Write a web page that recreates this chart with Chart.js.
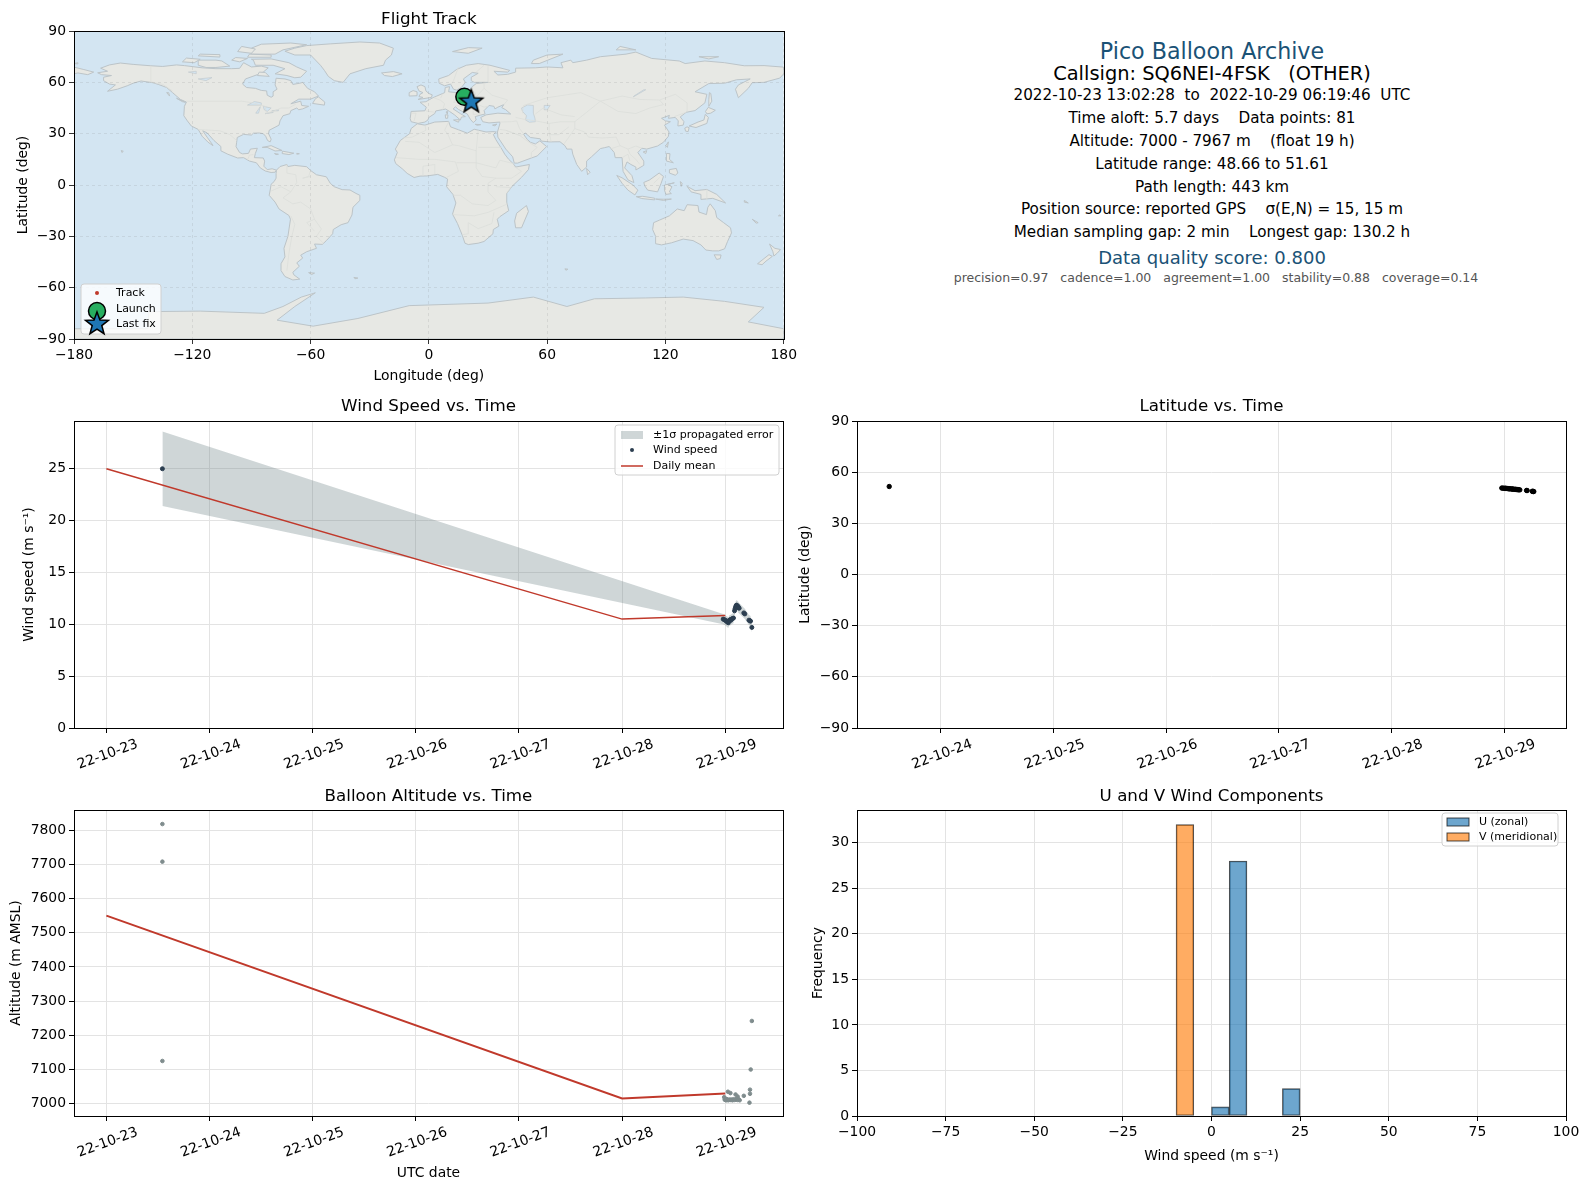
<!DOCTYPE html>
<html>
<head>
<meta charset="utf-8">
<title>Pico Balloon Archive</title>
<script src="https://cdn.jsdelivr.net/npm/chart.js@4"></script>
<style>
    html, body { margin: 0; padding: 0; background: #fff; }
    #page { position: relative; width: 1589px; height: 1189px; overflow: hidden; font-family: "DejaVu Sans", sans-serif; }
    canvas { position: absolute; }
    .info { position: absolute; left: 812px; width: 800px; text-align: center; white-space: pre; line-height: 1; transform: translateY(-50%); }
</style>
</head>
<body>
<div id="page">
    <canvas id="trackChart"></canvas>
    <canvas id="windChart"></canvas>
    <canvas id="latChart"></canvas>
    <canvas id="altChart"></canvas>
    <canvas id="histChart"></canvas>
</div>
<script>
// outlines are rough lon/lat readings of the basemap
const northAmerica = [[-166.5,68.3],[-162,70.2],[-156.5,71.3],[-150,70.5],[-141,69.7],[-135,69.3],[-128,70.2],[-124,69.8],[-115,68.5],[-108,68],[-100,68],[-96,68.2],[-94,71.5],[-90,69],[-85,69.5],[-81.5,68.5],[-84,66],[-87,64.5],[-93,62],[-94.5,59],[-92.5,57],[-88,56.5],[-85,55.3],[-82.3,55],[-82,52.5],[-80,51.3],[-79,52],[-79,54.5],[-77,56],[-78,58.5],[-77.5,62.4],[-73,62],[-70,61],[-69,58.8],[-65.5,59.5],[-64,60],[-61.5,56.5],[-58,54.5],[-56,52],[-60,50.2],[-66,50.2],[-70,47.5],[-65,49],[-64.5,46.5],[-61,46],[-64,44.5],[-66,44],[-67,45],[-70,43.5],[-70.5,41.7],[-74,40.5],[-75.5,37.5],[-76,35],[-78,33.8],[-81,32],[-81.3,30],[-80,26.8],[-80.5,25.2],[-81.8,26],[-82.8,28.5],[-84,30],[-86,30.4],[-89,30.3],[-90,29.2],[-94,29.6],[-97.2,27.8],[-97.5,25],[-97.8,22.4],[-96,19],[-94.5,18.2],[-91.5,18.5],[-90.5,21],[-87,21.5],[-88,18.5],[-88.5,16],[-84,15.8],[-83.3,14],[-83.7,11],[-82,9],[-79.5,9.5],[-77.3,8.7],[-78,7.5],[-80,7.3],[-83,8.2],[-85.5,10],[-87.5,13],[-91,14],[-94,16],[-97,15.8],[-102,18],[-105.5,20],[-105.5,22.5],[-109,26],[-112.5,30.5],[-114.7,31.7],[-112.5,28],[-110,24],[-109.5,23],[-112,25],[-115,28.5],[-117,32.5],[-120.5,34.5],[-122.5,37.5],[-124.3,40.5],[-124,46],[-123,48.5],[-126,50],[-130,54],[-133,57],[-137,58.7],[-140,59.8],[-146,60.8],[-150,59.5],[-153,58],[-158,56],[-163,54.8],[-159,58.5],[-162,59],[-165,61],[-165,63],[-161,64],[-166,64.5],[-168,65.6],[-163,66.5]]
const greenland = [[-73,78.2],[-68,76],[-60,76],[-55,70],[-53,67],[-51,63.5],[-48,61],[-43.5,60],[-40,65],[-32,68],[-23,70],[-22,73],[-19,76],[-18,80],[-25,83],[-35,83.6],[-50,82.5],[-62,81.5],[-68,80]]
const southAmerica = [[-77.3,8.7],[-75.5,10.8],[-72,12],[-71.5,10.8],[-68,11.5],[-62,10.7],[-60,8.5],[-57,6],[-52,4.8],[-50,1],[-48,-1],[-44,-2.7],[-40,-2.9],[-37,-4.9],[-35,-6],[-35,-9],[-38.5,-13],[-39,-17.5],[-41,-22],[-44.5,-23.2],[-48.5,-26],[-48.8,-28.5],[-52,-32.5],[-54,-34.7],[-58,-34.5],[-57,-37],[-62,-39],[-65,-41],[-64,-42.7],[-67,-45.5],[-65.7,-47.5],[-69,-51],[-68.5,-52.5],[-65.5,-55],[-69,-55.5],[-73,-53.5],[-75,-50],[-75,-46],[-73,-42],[-73.5,-37],[-71.5,-30],[-70.2,-20],[-71,-17.8],[-76,-14],[-78,-10],[-81,-6],[-80.5,-3],[-80,0.5],[-78.5,2],[-77.5,4],[-77.5,6.8]]
const africa = [[-5.9,35.8],[-2,35],[3,36.8],[10,37.2],[11,34],[15,32.3],[19.5,30.3],[23,32.6],[29,31],[32.5,31.2],[34.2,31],[32.7,29.5],[34,26.5],[37,21],[38.5,18],[40.5,15],[43.2,12],[44,10.5],[51,12],[50.5,9],[47,4.5],[42,-1],[39.5,-5],[39.5,-10],[40.5,-15],[36,-18.5],[34.7,-20],[35.5,-24],[32.7,-26],[32.5,-28.5],[28,-33],[25,-34],[20,-34.8],[18.3,-34],[17,-29.5],[14.5,-22.5],[12,-17],[13.7,-10.5],[12.2,-5.5],[9,-1],[9.5,3.5],[8,4.5],[4.5,6.2],[-1,5.3],[-4.5,5.2],[-7.5,4.4],[-11,6.8],[-13.5,9.5],[-16.8,12.5],[-17.5,14.7],[-16,19],[-17,21],[-14.5,26],[-9.8,30],[-9,33]]
const eurasia = [[-9,37],[-9.5,38.8],[-9,43],[-2,43.4],[-1.3,45.5],[-4.5,48.4],[-1.5,48.7],[2,51],[4,52],[8,54],[8.3,57],[10.5,57.5],[10,54.5],[14,54],[19,54.4],[21,55.5],[22,57.5],[24,59.3],[30,60],[23,60],[21.5,61],[21.5,63],[25,65.3],[22,65.8],[17.5,62],[18.5,60],[16.5,57],[14,55.5],[12.5,56],[11,59],[8,58],[5.2,59.5],[5,62],[10,64],[14,67.5],[19,70],[25,71],[31,70],[41,67],[40,66],[33,66.5],[35,64.3],[40,64.7],[44,66],[44,68.3],[54,68.5],[60,69],[68,68.5],[67,71.5],[72,73],[73,71.5],[80,73],[87,75],[100,76.5],[105,77.7],[113,74],[127,72.5],[130,71],[140,72.5],[150,71.5],[160,69.7],[170,69.8],[180,68.9],[180,65],[178,62.5],[170,60],[164,59.8],[162,56.5],[157,51],[155.5,56],[157,58.5],[163,62],[156,61.5],[150,59.5],[142,59.3],[135,54.5],[141,53],[140,48],[135,43.5],[130.5,42.5],[127.5,39.8],[129.4,37],[129,35],[126.3,34.5],[126.5,37.5],[125,39.5],[121.5,39],[122,40.7],[118,39],[120,37.5],[122.5,37],[119.5,35],[121.8,31],[121.5,28.5],[119,25],[116,22.8],[110.5,21],[108,21.5],[106,19],[109,14],[109,11.5],[105,8.8],[105,10.5],[102.5,12],[100.5,13.5],[99.3,10],[103,5.5],[104,1.4],[101,3],[98.5,8],[98,16],[94.5,16],[94,19],[91.5,22.5],[89,21.8],[87,21.3],[82.5,16.5],[80,14],[80,10.5],[77.5,8],[75,12],[73,18],[72.5,21],[70,21],[69,23],[66.5,25.3],[61,25.2],[57,25.7],[56.5,27],[51.5,27.8],[49,30.3],[48,29.7],[50,26.5],[51.5,25],[54,24],[56.3,25.8],[59.7,22.5],[55,17],[52,15.8],[45,12.8],[43.3,12.8],[42.5,16.5],[39,21],[35,28],[34.8,31],[36,35.8],[36,36.8],[30.5,36.3],[27.3,37],[26.3,39.5],[29,41],[35,42],[41.5,41.5],[39,44],[37,45.2],[38,47],[35,45.5],[33.5,44.5],[33,46],[30.5,46.5],[28,43.5],[28.5,41.5],[26,40.8],[23.5,40],[24,38],[22.5,36.5],[21,38.5],[19.5,41.5],[15,44.2],[13.5,45.7],[12.3,44.5],[16,41.7],[18.5,40],[16.5,39.7],[16,38],[13,41],[10.5,43],[8.5,44.4],[3.5,43.3],[3,41.8],[0,39.5],[-0.5,38],[-2,36.8],[-5.5,36]]
const chukotkaWest = [[-180,68.9],[-175,67.5],[-170,66],[-173,64.5],[-178,65.5],[-180,65]]
const australia = [[114,-22],[113.5,-26],[115,-30],[115,-34.3],[118,-35],[123,-33.8],[129,-31.6],[134,-32.5],[138,-35],[140.5,-38],[144,-38.5],[147,-38.5],[150,-37.3],[151.5,-33],[153.5,-28],[153,-25],[149.5,-22],[146,-19],[145.3,-15],[142.7,-11],[141.5,-13],[140.8,-17.3],[137,-15.8],[136.5,-12],[131,-11.5],[129.5,-15],[126,-14],[122,-18],[117,-20.5]]
const antarctica = [[-180,-90],[180,-90],[180,-84],[162,-80],[170,-71.5],[150,-68],[129,-65.5],[110,-66],[84,-66.5],[70,-71],[53,-65.5],[30,-69],[-10,-70.5],[-36,-78],[-58.7,-82.5],[-77,-79],[-68,-71],[-57.6,-63],[-64.7,-65.5],[-74,-71],[-83.5,-75],[-116,-73.7],[-142,-74],[-142.5,-84],[-180,-84]]
const islands = [
    [[-90,73.5],[-80,73.7],[-71,71.5],[-67,69],[-62,66.5],[-65,63],[-68,62.7],[-72,64],[-78,65],[-73,68],[-79,70],[-88,70],[-89,73]],
    [[-117,70],[-117,73],[-108,73],[-105,72.5],[-101,69.5],[-108,68.7],[-113,68.7]],
    [[-125,72],[-123,74.2],[-116,73.5],[-119,71.5]],
    [[-90,76.5],[-78,76.5],[-74,79],[-62,82],[-70,83],[-85,82.3],[-90,80]],
    [[-92,74.7],[-80,74.7],[-80,76],[-91,76.5]],
    [[-117,75.5],[-106,74.8],[-106,76.2],[-116,76.5]],
    [[-100,73],[-96,72],[-92,74],[-98,74.5]],
    [[-97,78],[-90,77],[-88,79.5],[-95,81]],
    [[-87,64],[-81,63.5],[-83,65.8],[-86,66]],
    [[-59,47.7],[-53,46.7],[-52.8,48.5],[-56,51.5],[-57.5,50.5]],
    [[-128,50.7],[-123.5,48.4],[-125,48.7]],
    [[-133,54],[-131.5,52],[-132,54]],
    [[-84.5,22],[-80,23],[-74.5,20.2],[-78,19.9],[-82,22]],
    [[-74.3,19.8],[-68.5,18.6],[-71,17.8],[-74.4,18.4]],
    [[-78.3,18.4],[-76.3,18],[-77.5,17.8]],
    [[-67,18.5],[-65.7,18.3],[-67,18]],
    [[-156,20.2],[-155,19.7],[-155.7,19]],
    [[-61,-51.2],[-58,-51.5],[-59.5,-52.3]],
    [[-38,-54],[-36,-54.4],[-37.5,-54.8]],
    [[-24,65.5],[-18,66.3],[-13.6,65],[-18.5,63.4],[-22.5,64]],
    [[-5.5,50],[1.3,51.2],[1.7,52.7],[0,53.5],[-1.5,55],[-2,57.5],[-4,58.5],[-6,57.5],[-5,55],[-3,54],[-4.5,53],[-5,51.7],[-3,51.2]],
    [[-10,52],[-6,52.2],[-6,54.5],[-8,55.2],[-10,54]],
    [[12,78],[20,80.3],[27,80],[20,77]],
    [[52,71],[56,71],[68,76.5],[60,76],[53,73]],
    [[95,79],[100,79],[105,79],[97,81]],
    [[137,75],[147,75],[142,73.7]],
    [[-178,71.5],[-178,70.8],[-180,71]],
    [[12.5,38],[15.5,38.2],[15,36.7]],
    [[8.3,41],[9.7,41],[9.5,39],[8.5,39]],
    [[8.7,42.7],[9.5,43],[9.4,41.5]],
    [[23.5,35.5],[26.3,35.3],[24.5,34.9]],
    [[32.3,35],[34.5,35.6],[33.5,34.6]],
    [[80,9.7],[81.8,7.5],[80.5,6]],
    [[49.5,-12],[50.5,-15.5],[47,-25],[44,-25],[43.5,-21],[44.5,-16.5]],
    [[95.3,5.6],[98,4.2],[103.5,0],[106,-3],[104.5,-5.8],[101,-3],[98,1]],
    [[105.2,-6.8],[108.5,-6.6],[114.5,-7.7],[114.5,-8.7],[108,-7.9]],
    [[115,-8.2],[119,-8.3],[123,-8.2],[119,-9]],
    [[109,1.5],[112,3],[116.8,7],[119,5],[117.8,1],[116,-4],[111,-3],[109.5,-0.5]],
    [[119.5,0],[124.5,1.3],[121,0.3],[123.3,-1],[122,-4],[123,-5],[120.3,-5.5],[119.5,-3]],
    [[127.5,2],[128.5,1],[128,-0.8]],
    [[131,-0.8],[135,-3.3],[141,-2.6],[146,-5.5],[150.5,-10.5],[144,-7.8],[138,-8.4],[138,-5.5],[133,-4]],
    [[120.5,18.5],[122.3,18.3],[122,15],[124,13],[120.5,14]],
    [[122,9],[125.5,9.7],[126.3,7],[125,5.7],[122,7]],
    [[120.2,23],[121.5,25.2],[121,22]],
    [[108.7,19.3],[110.5,20.1],[110,18.4]],
    [[131,34],[132,33.5],[131.5,31.2],[130.2,31.5],[129.8,33.3]],
    [[132,34.5],[136.5,36.8],[139.5,38],[140.2,41.3],[141.8,39.5],[141,36],[138,34.7],[135.5,33.6]],
    [[140.3,43],[141.7,45.4],[145.3,43.7],[143,42],[141,41.6]],
    [[142,46],[143.5,49],[143,53.5],[142.3,54],[142,50]],
    [[144.7,-40.8],[148.2,-40.9],[147.8,-43],[146,-43.5]],
    [[172.8,-34.5],[175.5,-37],[178.4,-37.7],[176.8,-39.7],[175,-41.5],[174.5,-39]],
    [[172.5,-40.7],[174.2,-41.7],[171,-44.5],[169,-46.6],[166.7,-46],[170,-43]],
    [[164,-20],[167,-22],[166,-22.3]],
    [[69,-49],[70.5,-49.2],[69.5,-49.8]],
    [[178,-17.5],[178.6,-18],[177.3,-18]],
    [[160,-9],[162,-10.5],[160,-10]]
]
const inlandWater = [
    [[47,45],[50,46.8],[53,46.5],[53,42],[53.8,39],[54,37],[51,36.7],[49,38],[49.5,40.5],[47.5,43]],
    [[58.5,46.5],[61.5,46.5],[60,44],[58.5,44]],
    [[-92,46.7],[-85,46.7],[-85,48],[-88.5,48.8]],
    [[-87.8,42],[-85.5,45.8],[-86.4,42]],
    [[-84,46],[-80,45],[-82,43],[-83.5,44]],
    [[-83,41.7],[-79,42.8],[-79,42.4]],
    [[-79.7,43.3],[-76.2,44],[-76.3,43.4]],
    [[-122,66],[-118,66.5],[-118,65]],
    [[-117,62],[-110,62.8],[-113,61]],
    [[103.7,51.5],[110,55.7],[109,55.7],[104,52]]
]
const borderLines = [
    [[-123,49],[-95,49],[-89,48],[-83,46],[-82.5,42],[-79,43],[-75,45],[-71,45],[-67.5,47.3]],
    [[-141,69.7],[-141,60.3],[-135,58.8],[-130,55]],
    [[-117,32.5],[-106,31.7],[-101,29.5],[-97.5,26]],
    [[-92,14.7],[-91,17.5],[-89,17.8]],
    [[-72,12],[-72,7],[-67.5,6],[-67,1.5],[-70,-4],[-74,-7.5],[-69,-11]],
    [[-60,8.5],[-61,5],[-64,4],[-60,5]],
    [[-69,-11],[-65,-10],[-60,-14],[-58,-20],[-54.5,-25.7],[-57,-30],[-53.5,-34]],
    [[-70,-18],[-68,-23],[-69.5,-30],[-71,-40],[-72,-50]],
    [[-80,-3.5],[-75,-1],[-70,-4]],
    [[-58,-20],[-62,-22],[-58,-27]],
    [[-2,35],[-1.5,32],[-8.5,28],[-13,27.5]],
    [[12,23.5],[3,19],[-5,25],[-12,25.5]],
    [[10,37],[8,32],[9.5,30],[12,23.5],[15,23],[24,20],[25,32]],
    [[25,22],[37,22]],
    [[24,20],[24,10],[27,5],[34,4],[42,4],[47,8],[43,11]],
    [[-16.5,16],[-5,15],[3,15],[13.5,13.5],[15,8],[9,4.5]],
    [[3,6.5],[3,12],[-3,11],[-3,5.2]],
    [[14,13],[24,13],[34,10],[36,14.5],[43,12.5]],
    [[12.5,-6],[16,-6],[22,-11],[30,-12],[34,-9],[30,-4],[30,1],[34,4]],
    [[34,-1],[41.5,-1.5],[39.5,-4.7]],
    [[12,-17.3],[23,-18],[30,-16],[40,-11]],
    [[20,-22],[20,-28.5],[17,-29]],
    [[20,-22],[25,-25.5],[32,-22.5],[33,-16]],
    [[-7.5,37.5],[-6.5,42],[-9,42]],
    [[-1.5,43.3],[3,42.5]],
    [[2.5,51],[6,49.5],[8,47.5],[7,44]],
    [[7,53.5],[6,50.8]],
    [[14.2,54],[15,51],[12.5,48.5],[17,48],[22,48.5],[24,51.5],[23.5,54],[21,55.5]],
    [[13.7,46.5],[18.5,45.5],[22.5,44],[22.5,41.3],[26,41.5]],
    [[22,48.5],[28,45.5],[30,46]],
    [[28,56.5],[24,51.5]],
    [[28,60.5],[28,56.5],[32,52.5],[40,49.7],[38,47]],
    [[30,60],[30,69.5]],
    [[15,69],[12.5,61],[11.5,59]],
    [[24,66],[28,70]],
    [[47.5,42],[48,46.5],[60,51],[77,54],[87,49],[98,52],[107,50],[117,49.7],[125,53],[131,48],[131,43]],
    [[87,49],[96,43],[105,41.8],[112,45],[119,47],[117,49.7]],
    [[44,39.5],[48,38.5],[54,37.5],[61,36],[61,31],[62,25.2]],
    [[61,36],[67,37],[74,37],[80,42.5],[87,49]],
    [[54,41.5],[58,45],[67,41],[74,40]],
    [[74,37],[74,33],[71,28],[68.5,24]],
    [[61,29.5],[66,29.5],[71,34]],
    [[74,33],[79,31],[81,28],[88,27.5],[95,28],[97,23],[92,21]],
    [[97,23],[101,21],[105,22.8],[108,21.5]],
    [[101,21],[102,18],[105,15],[107,12]],
    [[98,16],[101,18],[102,14]],
    [[36,32.5],[39,32],[46,29],[48,29.7]],
    [[36,36.8],[42,37],[44.5,37.5],[46,33],[48,30]],
    [[39,32],[46,29],[52,24],[55,22],[52,19],[52,16]],
    [[124.5,40],[130.5,42.5]],
    [[141,-2.6],[141,-9]],
    [[114,1],[117,4.3]]
]

const lonTicks = [-180, -120, -60, 0, 60, 120, 180]
const latTicks = [-90, -60, -30, 0, 30, 60, 90]

const trackLon = [18.0, 18.4, 18.9, 19.3, 19.8, 20.2, 20.7, 21.1, 21.5]
const trackLat = [51.61, 50.7, 50.5, 50.3, 50.1, 49.8, 49.5, 49.0, 48.66]
const launchLon = [18.0]
const launchLat = [51.61]
const lastLon = [21.5]
const lastLat = [48.66]

// x values are days after 22-10-23 00:00 UTC
const dayTicks = [0, 1, 2, 3, 4, 5, 6]
const dayLabels = ["22-10-23", "22-10-24", "22-10-25", "22-10-26", "22-10-27", "22-10-28", "22-10-29"]
const meanDays = [0, 5, 6]

const windDays = [0.543, 5.98, 5.99, 6.0, 6.01, 6.02, 6.025, 6.03, 6.035, 6.04, 6.045, 6.05, 6.055, 6.06, 6.07, 6.08, 6.09, 6.095, 6.1, 6.105, 6.11, 6.115, 6.12, 6.125, 6.13, 6.135, 6.18, 6.19, 6.23, 6.24, 6.245, 6.258]
const windSpeed = [25.0, 10.5, 10.45, 10.4, 10.3, 10.25, 10.2, 10.15, 10.3, 10.4, 10.35, 10.45, 10.4, 10.5, 10.55, 10.6, 11.3, 11.5, 11.65, 11.8, 11.85, 11.8, 11.75, 11.7, 11.6, 11.55, 11.1, 11.0, 10.4, 10.35, 10.3, 9.7]
const windUpper = [28.6, 11.0, 10.95, 10.9, 10.8, 10.75, 10.7, 10.65, 10.8, 10.9, 10.85, 10.95, 10.9, 11.0, 11.05, 11.1, 11.8, 12.0, 12.15, 12.3, 12.35, 12.3, 12.25, 12.2, 12.1, 12.05, 11.6, 11.5, 10.9, 10.85, 10.8, 10.2]
const windLower = [21.4, 10.0, 9.95, 9.9, 9.8, 9.75, 9.7, 9.65, 9.8, 9.9, 9.85, 9.95, 9.9, 10.0, 10.05, 10.1, 10.8, 11.0, 11.15, 11.3, 11.35, 11.3, 11.25, 11.2, 11.1, 11.05, 10.6, 10.5, 9.9, 9.85, 9.8, 9.2]
const windMean = [25.0, 10.5, 10.85]
const windTicks = [0, 5, 10, 15, 20, 25]

const latDays = [0.543, 5.98, 5.99, 6.0, 6.01, 6.015, 6.02, 6.03, 6.04, 6.045, 6.05, 6.06, 6.07, 6.075, 6.08, 6.09, 6.1, 6.105, 6.11, 6.12, 6.125, 6.13, 6.14, 6.2, 6.205, 6.25, 6.255, 6.26, 6.264]
const latValues = [51.61, 50.7, 50.65, 50.6, 50.55, 50.5, 50.5, 50.4, 50.35, 50.3, 50.3, 50.2, 50.15, 50.1, 50.1, 50.0, 49.95, 49.9, 49.85, 49.8, 49.8, 49.7, 49.65, 49.3, 49.25, 48.8, 48.75, 48.7, 48.66]
const latAxisTicks = [-90, -60, -30, 0, 30, 60, 90]
const latDayTicks = [1, 2, 3, 4, 5, 6]

const altDays = [0.543, 0.543, 0.543, 5.99, 5.995, 6.0, 6.005, 6.01, 6.015, 6.02, 6.026, 6.03, 6.04, 6.05, 6.05, 6.06, 6.07, 6.08, 6.09, 6.1, 6.105, 6.11, 6.12, 6.12, 6.13, 6.14, 6.18, 6.235, 6.24, 6.24, 6.247, 6.258]
const altValues = [7818, 7708, 7125, 7019, 7012, 7011, 7014, 7010, 7013, 7012, 7035, 7010, 7012, 7031, 7011, 7012, 7010, 7013, 7011, 7027, 7012, 7014, 7021, 7011, 7013, 7010, 7023, 7003, 7041, 7029, 7100, 7242]
const altMean = [7550, 7015, 7030]
const altTicks = [7000, 7100, 7200, 7300, 7400, 7500, 7600, 7700, 7800]

const binCentersU = [2.5, 7.5, 22.5]
const countsU = [1, 28, 3]
const binCentersV = [-7.5]
const countsV = [32]
const histXTicks = [-100, -75, -50, -25, 0, 25, 50, 75, 100]
const histYTicks = [0, 5, 10, 15, 20, 25, 30]

const infoLines = [
    ["Pico Balloon Archive", 51, 22.2, "#1a5276", 0],
    ["Callsign: SQ6NEI-4FSK   (OTHER)", 74, 19.4, "#000", 0],
    ["2022-10-23 13:02:28  to  2022-10-29 06:19:46  UTC", 96, 15.2, "#000", 0],
    ["Time aloft: 5.7 days    Data points: 81", 119, 15.2, "#000", 0],
    ["Altitude: 7000 - 7967 m    (float 19 h)", 142, 15.2, "#000", 0],
    ["Latitude range: 48.66 to 51.61", 164.5, 15.2, "#000", 0],
    ["Path length: 443 km", 188, 15.2, "#000", 0],
    ["Position source: reported GPS    σ(E,N) = 15, 15 m", 210, 15.2, "#000", 0],
    ["Median sampling gap: 2 min    Longest gap: 130.2 h", 233, 15.2, "#000", 0],
    ["Data quality score: 0.800", 258, 18, "#1a5276", 0],
    ["precision=0.97   cadence=1.00   agreement=1.00   stability=0.88   coverage=0.14", 278, 12.5, "#555", 4]
]

const FONT = "'DejaVu Sans', sans-serif"
const GRID = "#e3e3e3"
const RED = "#c0392b"
const GREEN = "#27ae60"
const STAR_BLUE = "#1f77b4"
const OCEAN = "#d3e5f2"
const LAND = "#e7e8e4"
const BAND = "rgba(110,130,135,0.33)"

Chart.defaults.font.family = FONT
Chart.defaults.color = "#000"
Chart.defaults.animation = false

infoLines.forEach(([text, y, size, color, nudge]) => {
    const div = document.createElement("div")
    div.className = "info"
    div.textContent = text
    div.style.top = y + "px"
    div.style.marginLeft = nudge + "px"
    div.style.fontSize = size + "px"
    div.style.color = color
    document.getElementById("page").appendChild(div)
})

function points(xs, ys) {
    return xs.map((x, i) => ({ x: x, y: ys[i] }))
}

function makeStar(outer, fill) {
    const c = document.createElement("canvas")
    c.width = c.height = Math.ceil(outer * 2 + 6)
    const g = c.getContext("2d")
    const mid = c.width / 2
    g.beginPath()
    for (let i = 0; i < 10; i++) {
        const r = i % 2 ? outer * 0.42 : outer
        const a = -Math.PI / 2 + (i * Math.PI) / 5
        g.lineTo(mid + r * Math.cos(a), mid + r * Math.sin(a))
    }
    g.closePath()
    g.fillStyle = fill
    g.fill()
    g.lineWidth = 1.5
    g.strokeStyle = "#000"
    g.stroke()
    return c
}

const starMark = makeStar(12, STAR_BLUE)

const mapLayer = {
    id: "mapLayer",
    beforeDraw(chart) {
        const { ctx, chartArea: a, scales } = chart
        const trace = (line) => {
            ctx.beginPath()
            line.forEach(([lon, lat], i) => {
                const px = scales.x.getPixelForValue(lon)
                const py = scales.y.getPixelForValue(lat)
                if (i === 0) ctx.moveTo(px, py)
                else ctx.lineTo(px, py)
            })
        }
        ctx.save()
        ctx.beginPath()
        ctx.rect(a.left, a.top, a.width, a.height)
        ctx.clip()
        ctx.fillStyle = OCEAN
        ctx.fillRect(a.left, a.top, a.width, a.height)
        ctx.lineJoin = "round"
        const land = [northAmerica, greenland, southAmerica, africa, eurasia, chukotkaWest, australia, antarctica].concat(islands)
        land.forEach((poly) => {
            trace(poly)
            ctx.closePath()
            ctx.fillStyle = LAND
            ctx.fill()
            ctx.strokeStyle = "#bcc4c8"
            ctx.lineWidth = 1
            ctx.stroke()
        })
        inlandWater.forEach((poly) => {
            trace(poly)
            ctx.closePath()
            ctx.fillStyle = OCEAN
            ctx.fill()
            ctx.strokeStyle = "#c3cacd"
            ctx.lineWidth = 0.7
            ctx.stroke()
        })
        borderLines.forEach((line) => {
            trace(line)
            ctx.strokeStyle = "#dcdedb"
            ctx.lineWidth = 0.8
            ctx.stroke()
        })
        ctx.restore()
    },
}

const frame = {
    id: "frame",
    afterDatasetsDraw(chart) {
        const { ctx, chartArea: a } = chart
        ctx.save()
        ctx.strokeStyle = "#000"
        ctx.lineWidth = 1
        ctx.strokeRect(Math.round(a.left) + 0.5, Math.round(a.top) + 0.5, Math.round(a.width), Math.round(a.height))
        ctx.restore()
    },
}

// matplotlib style legend box sitting inside the axes
const insetLegend = {
    id: "insetLegend",
    afterDraw(chart, args, opts) {
        const { ctx } = chart
        const { left, top, width, height, textX, swatchX, rows } = opts
        if (!rows) return
        ctx.save()
        ctx.beginPath()
        ctx.roundRect(left, top, width, height, 3)
        ctx.fillStyle = "rgba(255,255,255,0.8)"
        ctx.fill()
        ctx.strokeStyle = "#d0d0d0"
        ctx.lineWidth = 1
        ctx.stroke()
        rows.forEach((row) => {
            const my = row.markY === undefined ? row.y : row.markY
            if (row.kind === "band" || row.kind === "bar") {
                ctx.fillStyle = row.color
                ctx.fillRect(swatchX - 11, row.y - 4, 22, 8)
                if (row.edge) {
                    ctx.strokeStyle = row.edge
                    ctx.strokeRect(swatchX - 11, row.y - 4, 22, 8)
                }
            } else if (row.kind === "line") {
                ctx.strokeStyle = row.color
                ctx.lineWidth = 1.5
                ctx.beginPath()
                ctx.moveTo(swatchX - 11, row.y)
                ctx.lineTo(swatchX + 11, row.y)
                ctx.stroke()
            } else if (row.kind === "dot") {
                ctx.fillStyle = row.color
                ctx.beginPath()
                ctx.arc(swatchX, my, row.r, 0, Math.PI * 2)
                ctx.fill()
                if (row.edge) {
                    ctx.strokeStyle = row.edge
                    ctx.lineWidth = 1.5
                    ctx.stroke()
                }
            } else if (row.kind === "star") {
                ctx.drawImage(starMark, swatchX - starMark.width / 2, my - starMark.height / 2)
            }
            ctx.fillStyle = "#000"
            ctx.font = "11px " + FONT
            ctx.textAlign = "left"
            ctx.textBaseline = "middle"
            ctx.fillText(row.label, textX, row.y)
        })
        ctx.restore()
    },
}

function minus(v) {
    return String(v).replace("-", "\u2212")
}

function axis(min, max, ticks, fit, extra) {
    const base = {
        type: "linear",
        min: min,
        max: max,
        afterBuildTicks(scale) {
            scale.ticks = ticks.map((v) => ({ value: v }))
        },
        afterFit(scale) {
            if (scale.isHorizontal()) scale.height = fit
            else scale.width = fit
        },
        grid: { color: GRID, lineWidth: 1, tickColor: "#000", tickLength: 5 },
        border: { display: false },
    }
    return Object.assign(base, extra)
}

function dayAxis(min, max, ticks, fit, titleText) {
    return axis(min, max, ticks, fit, {
        ticks: {
            autoSkip: false,
            minRotation: 20,
            maxRotation: 20,
            labelOffset: 31,
            padding: 3,
            font: { size: 13.9 },
            callback: (v) => dayLabels[dayTicks.indexOf(v)],
        },
        title: titleText
            ? { display: true, text: titleText, font: { size: 13.9 }, padding: { top: 0, bottom: 2 } }
            : { display: false },
    })
}

function yAxis(min, max, ticks, titleText, titlePad) {
    return axis(min, max, ticks, 74, {
        ticks: { font: { size: 13.9 }, padding: 3, callback: (v) => minus(v) },
        title: { display: true, text: titleText, font: { size: 13.9 }, padding: { top: titlePad, bottom: 0 } },
    })
}

function titleOpts(text, topPad) {
    return {
        display: true,
        text: text,
        fullSize: false,
        font: { size: 16.7, weight: "normal" },
        padding: { top: topPad, bottom: 8 - topPad },
    }
}

function panel(id, left, top, width, height, rightPad, config) {
    const canvas = document.getElementById(id)
    canvas.width = width
    canvas.height = height
    canvas.style.left = left + "px"
    canvas.style.top = top + "px"
    config.options.responsive = false
    config.options.layout = { padding: { left: 0, top: 0, right: rightPad, bottom: 0 } }
    config.options.plugins = Object.assign({ legend: { display: false }, tooltip: { enabled: false } }, config.options.plugins)
    config.plugins = (config.plugins || []).concat([frame, insetLegend])
    return new Chart(canvas, config)
}

const mapGrid = { color: "rgba(120,120,120,0.2)", lineWidth: 0.8, tickColor: "#000", tickLength: 5 }
const mapBorder = { display: false, dash: [3, 3] }

panel("trackChart", 0, 3, 800, 385, 14, {
    type: "scatter",
    data: {
        datasets: [
            { data: points(lastLon, lastLat), pointStyle: starMark, pointRadius: 12 },
            { data: points(launchLon, launchLat), backgroundColor: GREEN, borderColor: "#000", borderWidth: 1.5, pointRadius: 8.5 },
            { data: points(trackLon, trackLat), backgroundColor: RED, borderColor: RED, pointRadius: 2 },
        ],
    },
    plugins: [mapLayer],
    options: {
        plugins: {
            title: titleOpts("Flight Track", 7),
            insetLegend: {
                left: 81, top: 281, width: 80, height: 50, textX: 116, swatchX: 97,
                rows: [
                    { kind: "dot", label: "Track", y: 290, color: RED, r: 2 },
                    { kind: "dot", label: "Launch", y: 306, markY: 308, color: GREEN, edge: "#000", r: 8.5 },
                    { kind: "star", label: "Last fix", y: 321, markY: 321 },
                ],
            },
        },
        scales: {
            x: axis(-180, 180, lonTicks, 49, {
                grid: mapGrid,
                border: mapBorder,
                ticks: { font: { size: 13.9 }, maxRotation: 0, autoSkip: false, callback: (v) => minus(v) },
                title: { display: true, text: "Longitude (deg)", font: { size: 13.9 }, padding: { top: 0, bottom: 3 } },
            }),
            y: Object.assign(yAxis(-90, 90, latTicks, "Latitude (deg)", 15), { grid: mapGrid, border: mapBorder }),
        },
    },
})

panel("windChart", 0, 393, 800, 400, 17, {
    type: "scatter",
    data: {
        datasets: [
            { data: points(meanDays, windMean), showLine: true, borderColor: RED, borderWidth: 1.5, pointRadius: 0, fill: false },
            { data: points(windDays, windSpeed), backgroundColor: "#2c3e50", borderColor: "#2c3e50", pointRadius: 2 },
            { data: points(windDays, windUpper), showLine: true, borderWidth: 0, pointRadius: 0, backgroundColor: BAND, fill: "+1" },
            { data: points(windDays, windLower), showLine: true, borderWidth: 0, pointRadius: 0, fill: false },
        ],
    },
    options: {
        plugins: {
            title: titleOpts("Wind Speed vs. Time", 4),
            insetLegend: {
                left: 615, top: 32, width: 164, height: 50, textX: 653, swatchX: 632,
                rows: [
                    { kind: "band", label: "±1σ propagated error", y: 42, color: BAND },
                    { kind: "dot", label: "Wind speed", y: 57, color: "#2c3e50", r: 2 },
                    { kind: "line", label: "Daily mean", y: 73, color: RED },
                ],
            },
        },
        scales: {
            x: dayAxis(-0.314, 6.56, dayTicks, 65),
            y: yAxis(0, 29.6, windTicks, "Wind speed (m s\u207B\u00B9)", 21),
        },
    },
})

panel("latChart", 783, 393, 806, 400, 23, {
    type: "scatter",
    data: {
        datasets: [
            { data: points(latDays, latValues), backgroundColor: "#000", borderColor: "#000", pointRadius: 2.2 },
        ],
    },
    options: {
        plugins: { title: titleOpts("Latitude vs. Time", 4) },
        scales: {
            x: dayAxis(0.257, 6.55, latDayTicks, 65),
            y: yAxis(-90, 90, latAxisTicks, "Latitude (deg)", 14),
        },
    },
})

panel("altChart", 0, 782, 800, 402, 17, {
    type: "scatter",
    data: {
        datasets: [
            { data: points(meanDays, altMean), showLine: true, borderColor: RED, borderWidth: 2, pointRadius: 0, fill: false },
            { data: points(altDays, altValues), backgroundColor: "#7f8c8d", borderColor: "#7f8c8d", pointRadius: 1.8 },
        ],
    },
    options: {
        plugins: { title: titleOpts("Balloon Altitude vs. Time", 5) },
        scales: {
            x: dayAxis(-0.314, 6.56, dayTicks, 68, "UTC date"),
            y: yAxis(6964, 7859, altTicks, "Altitude (m AMSL)", 8),
        },
    },
})

panel("histChart", 783, 782, 806, 386, 23, {
    type: "bar",
    data: {
        datasets: [
            { data: points(binCentersV, countsV), backgroundColor: "rgba(255,127,14,0.65)" },
            { data: points(binCentersU, countsU), backgroundColor: "rgba(31,119,180,0.65)" },
        ],
    },
    options: {
        datasets: {
            bar: { grouped: false, barThickness: 17.7, borderColor: "rgba(0,0,0,0.7)", borderWidth: 1, borderSkipped: false },
        },
        plugins: {
            title: titleOpts("U and V Wind Components", 5),
            insetLegend: {
                left: 659, top: 31, width: 116, height: 33, textX: 696, swatchX: 675,
                rows: [
                    { kind: "bar", label: "U (zonal)", y: 40, color: "rgba(31,119,180,0.65)", edge: "rgba(0,0,0,0.7)" },
                    { kind: "bar", label: "V (meridional)", y: 55, color: "rgba(255,127,14,0.65)", edge: "rgba(0,0,0,0.7)" },
                ],
            },
        },
        scales: {
            x: axis(-100, 100, histXTicks, 52, {
                offset: false,
                grid: { color: GRID, lineWidth: 1, tickColor: "#000", tickLength: 5, offset: false },
                ticks: { font: { size: 13.9 }, maxRotation: 0, autoSkip: false, callback: (v) => minus(v) },
                title: { display: true, text: "Wind speed (m s\u207B\u00B9)", font: { size: 13.9 }, padding: { top: 0, bottom: 3 } },
            }),
            y: yAxis(0, 33.6, histYTicks, "Frequency", 27),
        },
    },
})
</script>
</body>
</html>
